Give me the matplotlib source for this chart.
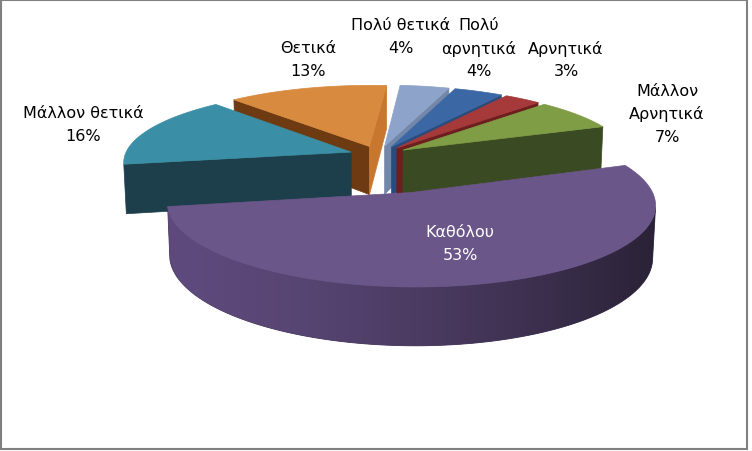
import numpy as np
import matplotlib
matplotlib.use('Agg')
import matplotlib.pyplot as plt
from matplotlib.patches import Polygon, Rectangle

# ---------------- data ----------------
categories = ['Πολύ θετικά', 'Πολύ αρνητικά', 'Αρνητικά', 'Μάλλον Αρνητικά', 'Καθόλου', 'Μάλλον θετικά', 'Θετικά']
display_names = ['Πολύ θετικά', 'Πολύ\nαρνητικά', 'Αρνητικά', 'Μάλλον\nΑρνητικά', 'Καθόλου', 'Μάλλον θετικά', 'Θετικά']
values = [4, 4, 3, 7, 53, 16, 13]

# ---------------- style / 3D view ----------------
explode = [0.13, 0.13, 0.13, 0.13, 0.51, 0.13, 0.13]
top_colors = ['#8DA3C9', '#3C67A5', '#A63A3A', '#7E9D45', '#6A5689', '#3A8FA6', '#D88A3E']
start_wall = ['#7387A9', '#2A4C7C', '#6E1E1E', '#3A4A23', '#4A3A66', '#1D3F4C', '#6E3A12']
end_wall = ['#7387A9', '#2A4C7C', '#6E1E1E', '#3A4A23', '#4A3A66', '#1D3F4C', '#C8772E']
outer_light = ['#8DA3C9', '#3C67A5', '#A63A3A', '#7E9D45', '#5E4A7C', '#1D3F4C', '#D88A3E']
outer_dark = ['#5A6B8A', '#26436E', '#6A1F1F', '#3A4A23', '#2A2236', '#1D3F4C', '#7A4115']
label_pos = [(401, 37), (479, 49), (566, 60), (667, 114), (460, 244), (83, 125), (308, 60)]

CX, CY, FOC, DIST, ELEV, THICK, ROT = 378.7, 156.1, 1647.0, 7.282, 18.34, 0.2295, 4.69

tot = float(sum(values))
cum = np.concatenate([[0], np.cumsum(values)]) / tot * 360.0
er = np.radians(ELEV)
cam = np.array([0.0, -DIST*np.cos(er), DIST*np.sin(er)])


def proj(X, Y, Z):
    depth = DIST + Y*np.cos(er) - Z*np.sin(er)
    yc = Y*np.sin(er) + Z*np.cos(er)
    return CX + FOC*X/depth, CY - FOC*yc/depth


def offset(i):
    mid = np.radians(ROT + (cum[i]+cum[i+1])/2)
    return explode[i]*np.sin(mid), explode[i]*np.cos(mid)


def hexrgb(h):
    return np.array([int(h[k:k+2], 16)/255 for k in (1, 3, 5)])


def vis(n, pt):
    return np.dot(n, cam - np.array(pt)) > 0


fig = plt.figure(figsize=(7.52, 4.52), dpi=100)
ax = fig.add_axes([0, 0, 1, 1])
ax.set_xlim(0, 752)
ax.set_ylim(452, 0)
ax.axis('off')


def poly(xy, col, z, lw=0.5):
    pg = Polygon(xy, closed=True, facecolor=col, edgecolor=col, lw=lw, zorder=z, joinstyle='round')
    ax.add_patch(pg)
    return pg


order = sorted(range(len(values)), key=lambda i: -offset(i)[1])
z = 1
T = THICK
for i in order:
    a0 = np.radians(ROT + cum[i])
    a1 = np.radians(ROT + cum[i+1])
    ox, oy = offset(i)
    n = max(int(np.degrees(a1 - a0)) * 2 + 2, 3)
    th = np.linspace(a0, a1, n)
    rx = ox + np.sin(th)
    ry = oy + np.cos(th)
    tx, ty = proj(rx, ry, 0.0)
    bx, by = proj(rx, ry, -T)
    axp, ayp = proj(ox, oy, 0.0)
    abx, aby = proj(ox, oy, -T)

    # radial walls
    ns = np.array([-np.cos(a0), np.sin(a0), 0])
    if vis(ns, (ox+0.5*np.sin(a0), oy+0.5*np.cos(a0), -T/2)):
        poly([(axp, ayp), (tx[0], ty[0]), (bx[0], by[0]), (abx, aby)], start_wall[i], z)
        z += 1
    ne = np.array([np.cos(a1), -np.sin(a1), 0])
    if vis(ne, (ox+0.5*np.sin(a1), oy+0.5*np.cos(a1), -T/2)):
        poly([(axp, ayp), (tx[-1], ty[-1]), (bx[-1], by[-1]), (abx, aby)], end_wall[i], z)
        z += 1

    # outer curved wall with horizontal gradient
    mask = np.array([vis(np.array([np.sin(t), np.cos(t), 0]),
                         (ox+np.sin(t), oy+np.cos(t), -T/2)) for t in th])
    if mask.sum() >= 2:
        idx = np.where(mask)[0]
        k0, k1 = idx[0], idx[-1]
        xy = list(zip(tx[k0:k1+1], ty[k0:k1+1])) + list(zip(bx[k0:k1+1][::-1], by[k0:k1+1][::-1]))
        L = hexrgb(outer_light[i])
        Dk = hexrgb(outer_dark[i])
        poly(xy, tuple((L + Dk)/2), z, lw=0.6)
        xs = np.array([p[0] for p in xy])
        ys = np.array([p[1] for p in xy])
        x0, x1 = xs.min(), xs.max()
        tt = np.linspace(0, 1, 256) ** 1.5
        grad = (L[None, :]*(1-tt[:, None]) + Dk[None, :]*tt[:, None])[None, :, :]
        im = ax.imshow(grad, extent=(x0, x1, ys.max(), ys.min()), aspect='auto',
                       zorder=z + 0.5, interpolation='bilinear')
        clip = Polygon(xy, closed=True, transform=ax.transData, facecolor='none', edgecolor='none')
        im.set_clip_path(clip)
        z += 1

    # top face
    poly([(axp, ayp)] + list(zip(tx, ty)), top_colors[i], z)
    z += 1

ax.set_xlim(0, 752)
ax.set_ylim(452, 0)

for i, (name, v) in enumerate(zip(display_names, values)):
    ax.text(label_pos[i][0], label_pos[i][1], f'{name}\n{v}%', ha='center', va='center',
            fontsize=11.5, family=['DejaVu Sans'], linespacing=1.6,
            color='white' if i == 4 else 'black', zorder=100)

ax.add_patch(Rectangle((1, 1), 746, 449, fill=False, edgecolor='#808080', lw=1.5, zorder=200))

fig.savefig('out.png', dpi=100)
